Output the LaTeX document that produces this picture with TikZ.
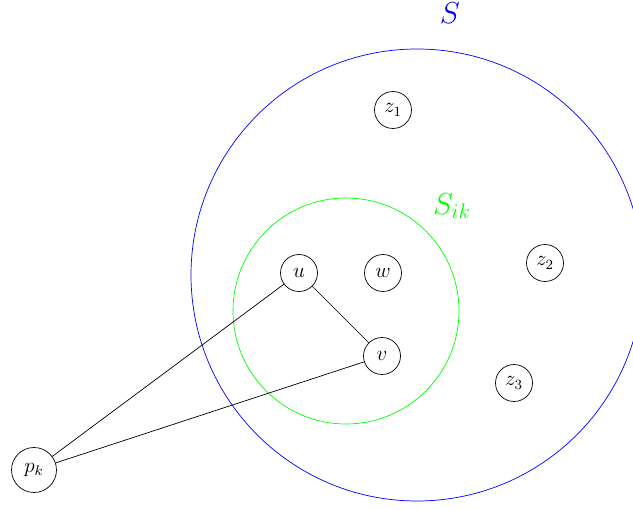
\documentclass[tikz,border=0pt]{standalone}
\usepackage{amsmath}
\usepackage{tikz}
\usetikzlibrary{positioning}

\begin{document}
\begin{tikzpicture}[x=0.02cm, y=-0.02cm,
    vertex/.style={draw, circle, minimum size=0.74cm, inner sep=1pt, font=\large}]

    % frame of the picture, the big set runs off the right edge
    \useasboundingbox (0,0) rectangle (633,510);
    \clip (0,0) rectangle (633,510);

    % === the two sets ===
    \draw[blue] (417,275) circle (226);
    \draw[green] (346,311) circle (113);
    \node[blue, font=\LARGE] (S) at (450,13) {$S$};
    \node[green, font=\LARGE] (Sik) at (452,206) {$S_{ik}$};

    % === vertices ===
    \node[vertex] (z1) at (393,110) {$z_1$};
    \node[vertex] (z2) at (545,263) {$z_2$};
    \node[vertex] (z3) at (514,383) {$z_3$};
    \node[vertex] (u) at (299,273) {$u$};
    \node[vertex] (w) at (383,273) {$w$};
    \node[vertex] (v) at (382,356) {$v$};
    \node[vertex, minimum size=0.9cm] (pk) at (34,470) {$p_k$};

    % === edges ===
    \draw (u) -- (v);
    \draw (pk) -- (u);
    \draw (pk) -- (v);

\end{tikzpicture}
\end{document}
